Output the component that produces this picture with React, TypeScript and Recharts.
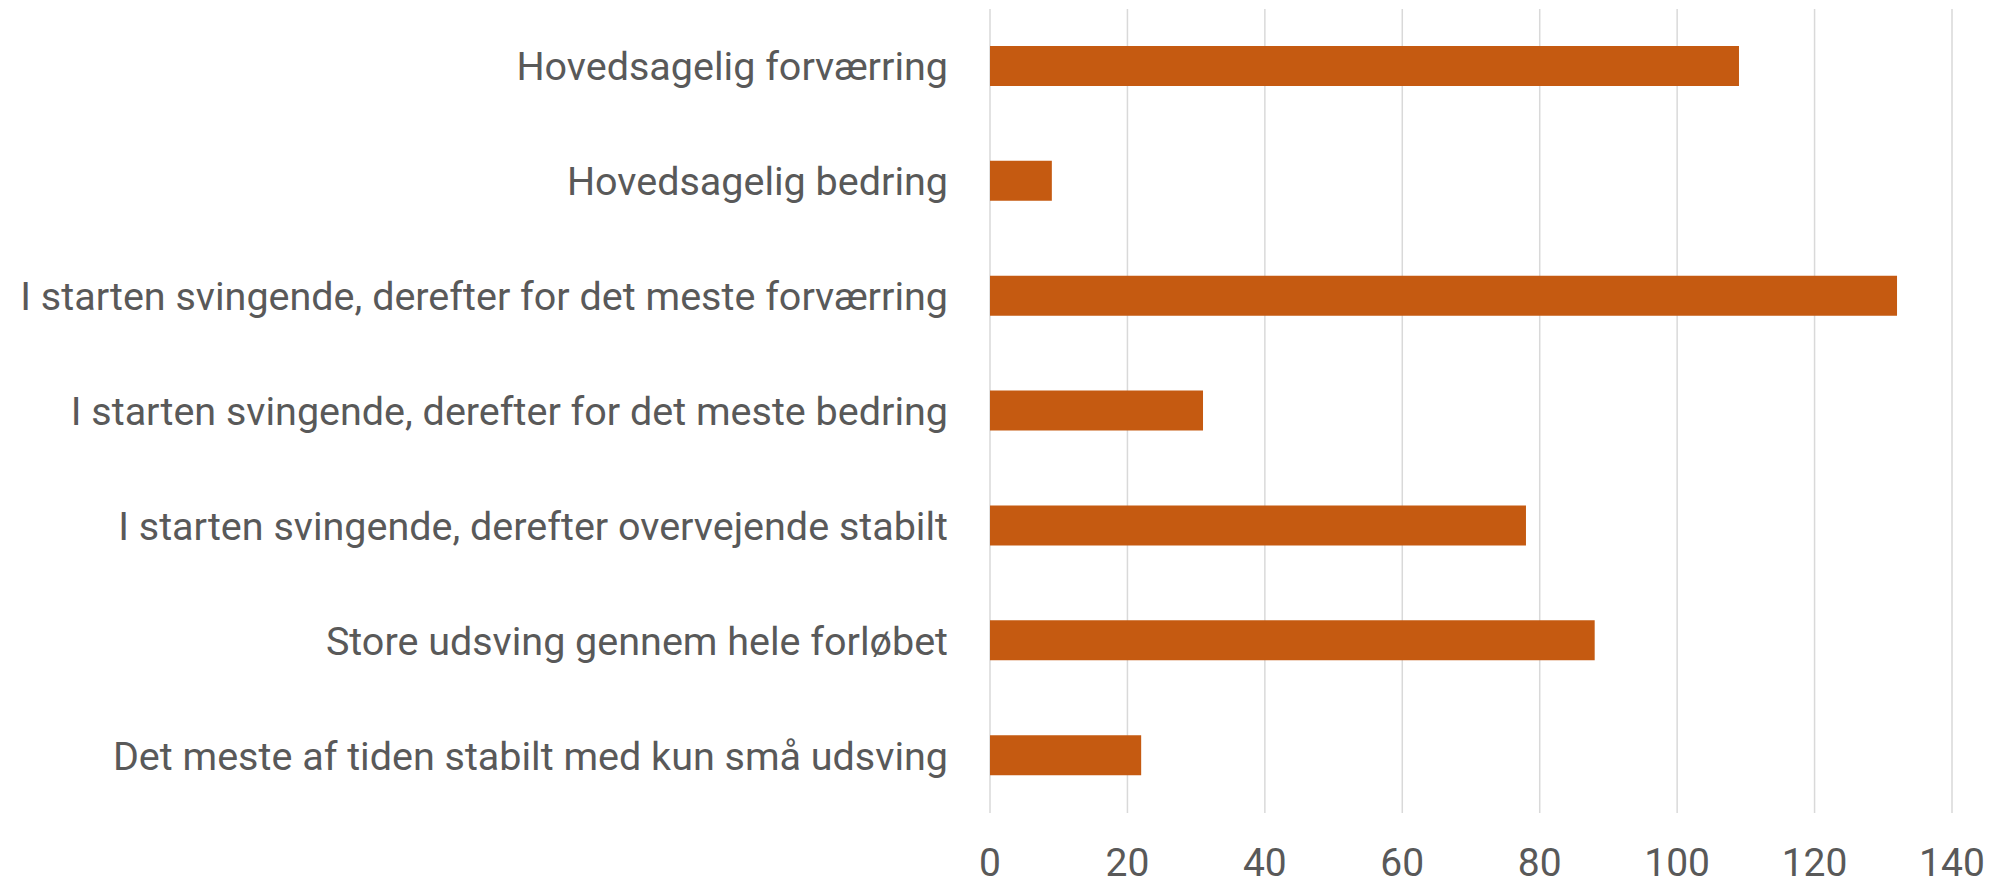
import { BarChart, Bar, XAxis, YAxis, CartesianGrid } from "recharts";

const categories = [
  "Hovedsagelig forværring",
  "Hovedsagelig bedring",
  "I starten svingende, derefter for det meste forværring",
  "I starten svingende, derefter for det meste bedring",
  "I starten svingende, derefter overvejende stabilt",
  "Store udsving gennem hele forløbet",
  "Det meste af tiden stabilt med kun små udsving",
];

const counts = [109, 9, 132, 31, 78, 88, 22];

const xTicks = [0, 20, 40, 60, 80, 100, 120, 140];

const data = categories.map((name, i) => ({ name, value: counts[i] }));

const FONT = "Roboto, 'Noto Sans', sans-serif";

export default function App() {
  return (
    <div style={{ position: "absolute", left: 0, top: 0, background: "#fff" }}>
      <BarChart
        width={2000}
        height={888}
        data={data}
        layout="vertical"
        margin={{ top: 9, right: 48, bottom: 0, left: 0 }}
      >
        <CartesianGrid horizontal={false} stroke="#d9d9d9" strokeWidth={1.5} />
        <XAxis
          type="number"
          domain={[0, 140]}
          ticks={xTicks}
          axisLine={false}
          tickLine={false}
          tickSize={0}
          tickMargin={35}
          height={75}
          tick={{ fontSize: 39, fill: "#595959", fontFamily: FONT }}
        />
        <YAxis
          type="category"
          dataKey="name"
          width={990}
          axisLine={false}
          tickLine={false}
          tickSize={0}
          tickMargin={42}
          interval={0}
          tick={{ fontSize: 39.5, fill: "#595959", fontFamily: FONT }}
        />
        <Bar dataKey="value" fill="#C55A11" barSize={40} isAnimationActive={false} />
      </BarChart>
    </div>
  );
}
